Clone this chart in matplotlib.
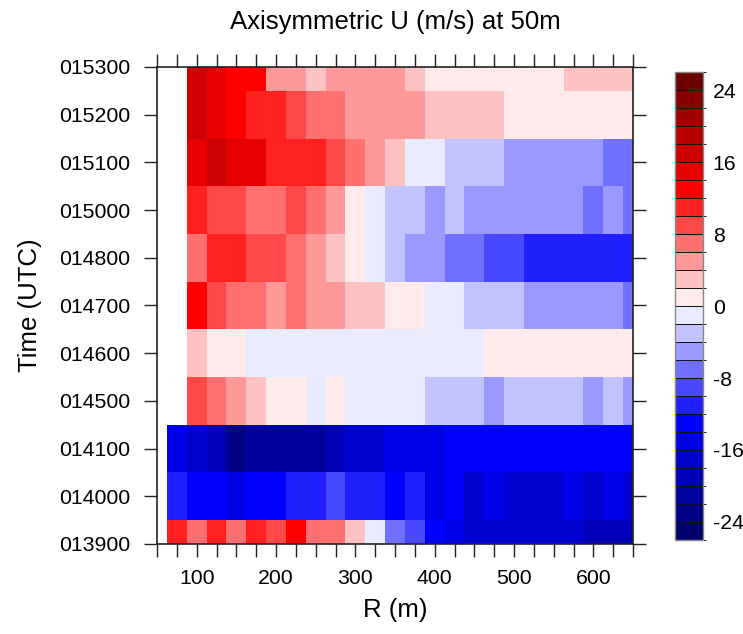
import numpy as np
import matplotlib
matplotlib.use('Agg')
import matplotlib.pyplot as plt
from matplotlib.colors import ListedColormap, BoundaryNorm

plt.rcParams['font.family'] = ['Liberation Sans', 'DejaVu Sans']
plt.rcParams['axes.unicode_minus'] = False

# radius of cell centres (m)
radius = [75, 100, 125, 150, 175, 200, 225, 250, 275, 300, 325, 350,
          375, 400, 425, 450, 475, 500, 525, 550, 575, 600, 625, 650]
times = ['013900', '014000', '014100', '014500', '014600', '014700',
         '014800', '015000', '015100', '015200', '015300']

nan = np.nan
u_013900 = [11, 7, 11, 7, 11, 9, 13, 7, 7, 3, -1, -7, -9, -13, -15, -17, -17, -17, -17, -17, -17, -19, -19, -19]
u_014000 = [-11, -13, -13, -15, -13, -13, -11, -11, -9, -11, -11, -13, -11, -15, -13, -17, -15, -17, -17, -17, -15, -17, -15, -17]
u_014100 = [-15, -17, -19, -23, -21, -21, -21, -21, -19, -17, -17, -15, -15, -15, -13, -13, -13, -13, -13, -13, -13, -13, -13, -13]
u_014500 = [nan, 9, 7, 5, 3, 1, 1, -1, 1, -1, -1, -1, -1, -3, -3, -3, -5, -3, -3, -3, -3, -5, -3, -5]
u_014600 = [nan, 3, 1, 1, -1, -1, -1, -1, -1, -1, -1, -1, -1, -1, -1, -1, 1, 1, 1, 1, 1, 1, 1, 1]
u_014700 = [nan, 13, 9, 7, 7, 5, 7, 5, 5, 3, 3, 1, 1, -1, -1, -3, -3, -3, -5, -5, -5, -5, -5, -7]
u_014800 = [nan, 7, 11, 11, 9, 9, 7, 5, 3, 1, -1, -3, -5, -5, -7, -7, -9, -9, -11, -11, -11, -11, -11, -11]
u_015000 = [nan, 11, 9, 9, 7, 7, 9, 7, 5, 1, -1, -3, -3, -5, -3, -5, -5, -5, -5, -5, -5, -7, -5, -7]
u_015100 = [nan, 15, 17, 15, 15, 11, 11, 11, 9, 7, 5, 3, -1, -1, -3, -3, -3, -5, -5, -5, -5, -5, -7, -7]
u_015200 = [nan, 17, 15, 13, 11, 11, 9, 7, 7, 5, 5, 5, 5, 3, 3, 3, 3, 1, 1, 1, 1, 1, 1, 1]
u_015300 = [nan, 17, 15, 13, 13, 5, 5, 3, 5, 5, 5, 5, 3, 1, 1, 1, 1, 1, 1, 1, 3, 3, 3, 3]

levels = np.arange(-26, 27, 2)
colors = ['#00006f', '#000087', '#00009f', '#0000b7', '#0000cf', '#0000e7', '#0000ff',
          '#2020ff', '#4848ff', '#7070ff', '#9999ff', '#c2c2ff', '#ebebff',
          '#ffebeb', '#ffc2c2', '#ff9999', '#ff7070', '#ff4848', '#ff2020',
          '#ff0000', '#e70000', '#cf0000', '#b70000', '#9f0000', '#870000', '#6f0000']

u = np.ma.masked_invalid(np.array([u_013900, u_014000, u_014100, u_014500, u_014600, u_014700,
                                   u_014800, u_015000, u_015100, u_015200, u_015300], dtype=float))

cmap = ListedColormap(colors)
norm = BoundaryNorm(levels, cmap.N)

# cell edges centred on the data points
r = np.array(radius, dtype=float)
x_edges = np.concatenate([r - 12.5, [r[-1] + 12.5]])
y_edges = np.arange(len(times) + 1) - 0.5

fig = plt.figure(figsize=(7.43, 6.34), dpi=100)
ax = fig.add_axes([0.2113, 0.1420, 0.6407, 0.7524])
mesh = ax.pcolormesh(x_edges, y_edges, u, cmap=cmap, norm=norm, edgecolors='none')

ax.set_xlim(50, 650)
ax.set_ylim(0, len(times) - 1)
ax.set_xticks(np.arange(100, 601, 100))
ax.set_xticks(np.arange(50, 651, 25), minor=True)
ax.set_yticks(np.arange(len(times)))
ax.set_yticklabels(times)

ax.tick_params(which='both', direction='out', length=9.5, width=1, color='#222222',
               top=True, right=True, labelsize=15.3)
ax.tick_params(axis='x', pad=8.5)
ax.tick_params(axis='y', pad=10)
for s in ax.spines.values():
    s.set_linewidth(1.2)
    s.set_color('#222222')

ax.set_xlabel('R (m)', fontsize=18.5)
ax.xaxis.set_label_coords(0.5, -0.138)
ax.xaxis.label.set_va('center')
ax.set_ylabel('Time (UTC)', fontsize=18.5)
ax.yaxis.set_label_coords(-0.267, 0.5)
ax.yaxis.label.set_va('center')

fig.text(0.5316, 1 - 22 / 634, 'Axisymmetric U (m/s) at 50m', ha='center', va='center', fontsize=18.5)

cax = fig.add_axes([0.9085, 0.1483, 0.0377, 0.738])
cb = fig.colorbar(mesh, cax=cax, ticks=np.arange(-24, 25, 8), drawedges=True)
cb.dividers.set_color('#111111')
cb.dividers.set_linewidth(0.7)
cb.outline.set_edgecolor('#888888')
cb.outline.set_linewidth(1)
cax.tick_params(length=0, pad=7, labelsize=15.3)

plt.savefig('out.png', dpi=100)
plt.close()
